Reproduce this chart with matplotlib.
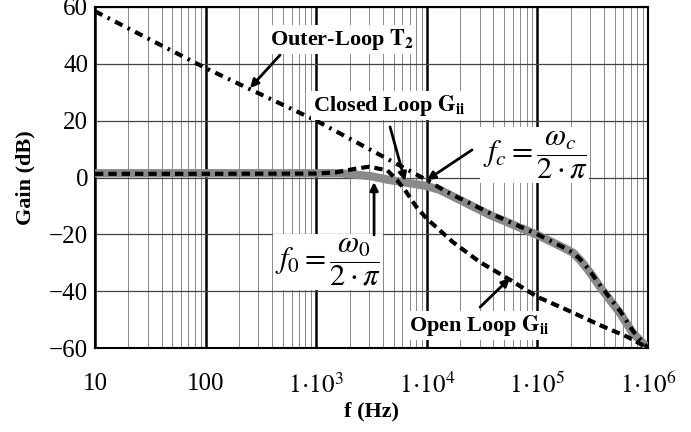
import numpy as np
import matplotlib
matplotlib.use('Agg')
import matplotlib.pyplot as plt
from matplotlib.ticker import LogLocator, FixedLocator, NullFormatter

plt.rcParams['font.family'] = ['Liberation Serif', 'DejaVu Serif']
plt.rcParams['mathtext.fontset'] = 'stix'

# Outer-Loop T2 (dash-dot)
f_t2 = [10, 100, 1e3, 1e4, 1.5e4, 3.7e4, 1e5, 1.7e5, 2.1e5, 2.4e5, 3e5, 3.7e5, 5.6e5, 7.3e5, 1e6]
g_t2 = [58.5, 38.5, 20.0, -0.9, -5.0, -12.5, -20.0, -24.5, -26.5, -28.5, -33.0, -38.0, -47.0, -54.0, -60.0]

# Closed Loop Gii (thick gray)
f_cl = [10, 100, 1e3, 1.64e3, 3.07e3, 4.65e3, 6.1e3, 1e4, 1.32e4, 3.73e4, 1e5, 1.7e5, 2.1e5, 2.43e5, 3e5, 3.68e5, 5.58e5, 7.31e5, 1e6]
g_cl = [1.5, 1.5, 1.5, 1.5, 0.5, -0.9, -1.6, -3.0, -4.4, -13.2, -20.2, -24.6, -26.5, -29.0, -33.5, -38.5, -47.7, -54.8, -60.0]

# Open Loop Gii (dashed)
f_ol = [10, 100, 1e3, 1.5e3, 2.2e3, 3e3, 4.4e3, 5.4e3, 6.5e3, 8.1e3, 1e4, 1.73e4, 3.03e4, 5.65e4, 1e5, 1.85e5, 3.7e5, 6.46e5, 1e6]
g_ol = [1.3, 1.3, 1.4, 1.8, 3.0, 3.8, 2.5, -1.0, -5.0, -10.5, -14.5, -22.8, -29.8, -36.0, -42.0, -46.6, -52.0, -56.0, -60.0]

xtick_vals = [10, 100, 1e3, 1e4, 1e5, 1e6]
xtick_labels = ['10', '100', r'$1\!\cdot\!10^{3}$', r'$1\!\cdot\!10^{4}$', r'$1\!\cdot\!10^{5}$', r'$1\!\cdot\!10^{6}$']
ytick_vals = [-60, -40, -20, 0, 20, 40, 60]

fig = plt.figure(figsize=(6.91, 4.32), dpi=100)
ax = fig.add_axes([0.1375, 0.1944, 0.8003, 0.7894])
ax.set_xscale('log')
ax.set_xlim(10, 1e6)
ax.set_ylim(-60, 60)

# grid
ax.xaxis.set_major_locator(FixedLocator(xtick_vals))
ax.xaxis.set_minor_locator(LogLocator(base=10, subs=np.arange(2, 10)))
ax.xaxis.set_minor_formatter(NullFormatter())
ax.set_yticks(ytick_vals)
ax.grid(True, which='major', axis='x', color='black', lw=1.8)
ax.grid(True, which='minor', axis='x', color='#888888', lw=0.7)
ax.grid(True, which='major', axis='y', color='#444444', lw=0.9)
ax.set_axisbelow(True)
ax.tick_params(which='both', length=0)
ax.tick_params(axis='x', pad=18, labelsize=18)
ax.tick_params(axis='y', pad=5, labelsize=18)
ax.set_xticklabels(xtick_labels)
for s in ax.spines.values():
    s.set_linewidth(1.5)

ax.plot(f_cl, g_cl, color='#8a8a8a', lw=6, solid_capstyle='round', solid_joinstyle='round', zorder=3)
ax.plot(f_ol, g_ol, color='black', lw=3, ls=(0, (2.0, 1.2)), zorder=4)
ax.plot(f_t2, g_t2, color='black', lw=3, ls=(0, (2.0, 1.4, 0.6, 1.4)), zorder=5)

ax.set_xlabel('f (Hz)', fontsize=16, fontweight='bold', labelpad=2)
ax.set_ylabel('Gain (dB)', fontsize=16, fontweight='bold', labelpad=10)

box = dict(facecolor='white', edgecolor='none', pad=1.5)
arr = dict(arrowstyle='-|>', color='black', lw=2, mutation_scale=12, shrinkA=0, shrinkB=0)

ax.text(1710, 48.4, r'Outer-Loop $\mathbf{T_2}$', fontsize=16, fontweight='bold',
        ha='center', va='center', bbox=box, zorder=6)
ax.annotate('', xy=(252, 31.5), xytext=(471, 43.1), arrowprops=arr, zorder=6)

ax.text(4550, 25.5, r'Closed Loop $\mathbf{G_{ii}}$', fontsize=16, fontweight='bold',
        ha='center', va='center', bbox=box, zorder=6)
ax.annotate('', xy=(6350, -1.2), xytext=(4650, 17.8), arrowprops=arr, zorder=6)

ax.text(9.5e4, 7.9, r'$f_c = \dfrac{\omega_c}{2\cdot\pi}$', fontsize=22,
        ha='center', va='center', bbox=box, zorder=6)
ax.annotate('', xy=(1e4, -0.9), xytext=(2.56e4, 9.7), arrowprops=arr, zorder=6)

ax.text(1279, -29.7, r'$f_0 = \dfrac{\omega_0}{2\cdot\pi}$', fontsize=22,
        ha='center', va='center', bbox=box, zorder=6)
ax.annotate('', xy=(3334, -1.6), xytext=(3334, -20.2), arrowprops=arr, zorder=6)

ax.text(2.97e4, -51.9, r'Open Loop $\mathbf{G_{ii}}$', fontsize=16, fontweight='bold',
        ha='center', va='center', bbox=box, zorder=6)
ax.annotate('', xy=(5.65e4, -35.4), xytext=(3.03e4, -45.6), arrowprops=arr, zorder=6)

fig.savefig('out.png', dpi=100)
